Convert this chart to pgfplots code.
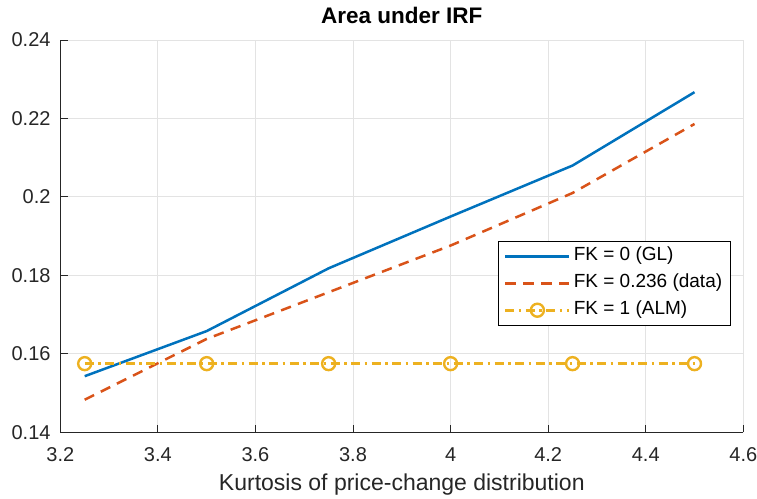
\documentclass[border=0pt]{standalone}
\usepackage{fontspec}
\setmainfont{Liberation Sans}
\usepackage{pgfplots}
\pgfplotsset{compat=1.18}
\definecolor{mblue}{rgb}{0,0.447,0.741}
\definecolor{morange}{rgb}{0.85,0.325,0.098}
\definecolor{myellow}{rgb}{0.929,0.694,0.125}
\definecolor{maxis}{rgb}{0.15,0.15,0.15}
\begin{document}
\begin{tikzpicture}
\useasboundingbox (-60.3pt,-65.7pt) rectangle (696.7pt,432.3pt);
\begin{axis}[
  at={(0pt,0pt)}, anchor=south west,
  scale only axis, width=683pt, height=392.3pt,
  xmin=3.2, xmax=4.6, ymin=0.14, ymax=0.24,
  xtick={3.2,3.4,3.6,3.8,4,4.2,4.4,4.6},
  ytick={0.14,0.16,0.18,0.2,0.22,0.24},
  xticklabels={3.2,3.4,3.6,3.8,4,4.2,4.4,4.6},
  yticklabels={0.14,0.16,0.18,0.2,0.22,0.24},
  axis x line*=bottom, axis y line*=left,
  axis line style={maxis, line width=0.9pt},
  tick style={maxis, line width=0.9pt},
  tick align=inside, major tick length=7.5pt,
  grid=major, grid style={black!11, line width=0.9pt},
  tick label style={font=\fontsize{20}{22}\selectfont, text=maxis},
  yticklabel style={anchor=east, inner sep=0pt, xshift=-9.6pt},
  xticklabel style={anchor=base, inner sep=0pt, yshift=-29.4pt},
  title={\bfseries Area under IRF},
  title style={font=\fontsize{22.5}{25}\selectfont, at={(0.5,1)}, anchor=base, inner sep=0pt, yshift=10pt},
  xlabel={Kurtosis of price-change distribution},
  xlabel style={font=\fontsize{23}{25}\selectfont, text=maxis, at={(0.5,0)}, anchor=base, inner sep=0pt, yshift=-58.4pt},
  legend style={at={(0.6409,0.4876)}, anchor=north west, draw=black, line width=0.9pt,
    font=\fontsize{19}{21}\selectfont, inner xsep=5.5pt, inner ysep=3.5pt, row sep=4.5pt,
    nodes={inner xsep=3pt, inner ysep=2pt, text height=14pt, text depth=4.5pt}},
  legend cell align=left,
  legend image code/.code={\draw[line width=2.8pt, mark repeat=2,mark phase=2] plot coordinates {(-1pt,0pt) (31pt,0pt) (63pt,0pt)};},
]
\addplot[mblue, line width=2.5pt] coordinates {
(3.25,0.1543) (3.5,0.1658) (3.75,0.1818) (4.0,0.1950) (4.25,0.2080) (4.5,0.2267)};
\addlegendentry{FK = 0 (GL)}
\addplot[morange, line width=2.5pt, dash pattern=on 10.5pt off 7.5pt] coordinates {
(3.25,0.1483) (3.5,0.1638) (3.75,0.1757) (4.0,0.1876) (4.25,0.2010) (4.5,0.2186)};
\addlegendentry{FK = 0.236 (data)}
\addplot[myellow, line width=2.5pt, dash pattern=on 9pt off 4.5pt on 2.5pt off 4.5pt,
  mark=o, mark size=6.5pt, mark options={solid, line width=2.4pt}] coordinates {
(3.25,0.1575) (3.5,0.1575) (3.75,0.1575) (4.0,0.1575) (4.25,0.1575) (4.5,0.1575)};
\addlegendentry{FK = 1 (ALM)}
\end{axis}
\end{tikzpicture}
\end{document}
